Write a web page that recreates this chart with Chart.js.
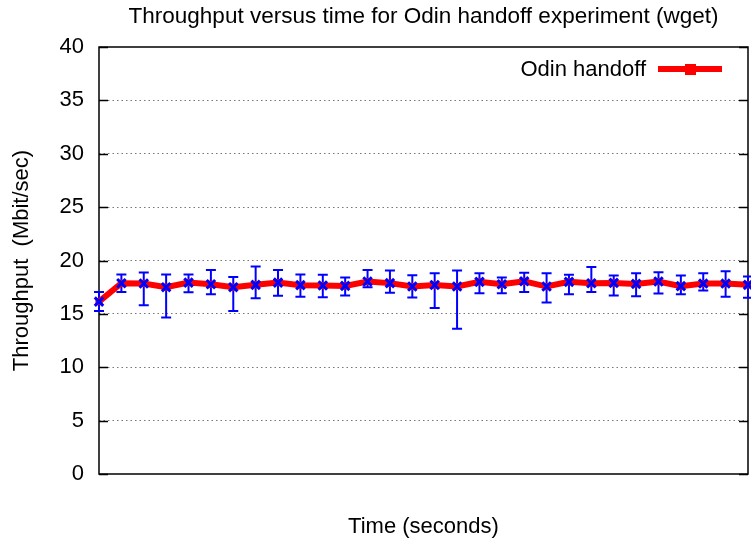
<!DOCTYPE html>
<html>
<head>
<meta charset="utf-8">
<script src="https://cdn.jsdelivr.net/npm/chart.js@4.4.0/dist/chart.umd.js"></script>
<style>
  html, body { margin: 0; padding: 0; background: #fff; }
  #wrap { width: 751px; height: 545px; position: relative; }
</style>
</head>
<body>
<div id="wrap"><canvas id="c" width="751" height="545"></canvas></div>
<script>
// time index of each sample (x axis carries no tick labels)
const times = [0, 1, 2, 3, 4, 5, 6, 7, 8, 9, 10, 11, 12, 13, 14, 15, 16, 17, 18, 19, 20, 21, 22, 23, 24, 25, 26, 27, 28, 29];
// mean throughput, Mbit/sec
const throughput = [16.15, 17.87, 17.85, 17.5, 17.93, 17.78, 17.5, 17.72, 17.93, 17.69,
                    17.66, 17.62, 18.03, 17.88, 17.56, 17.7, 17.56, 18.0, 17.78, 18.05,
                    17.56, 18.0, 17.87, 17.9, 17.81, 18.03, 17.6, 17.84, 17.84, 17.72];
// error bar bounds
const errLow = [15.28, 17.06, 15.8, 14.65, 17.03, 16.84, 15.28, 16.47, 16.7, 16.6,
                16.56, 16.72, 17.5, 16.97, 16.53, 15.56, 13.6, 16.94, 16.94, 17.06,
                16.06, 16.84, 17.06, 16.72, 16.66, 16.9, 16.84, 17.2, 16.6, 16.5];
const errHigh = [17.06, 18.68, 18.87, 18.7, 18.7, 19.1, 18.46, 19.44, 19.1, 18.7,
                 18.66, 18.4, 19.1, 19.06, 18.62, 18.81, 19.06, 18.8, 18.4, 18.86,
                 18.8, 18.66, 19.4, 18.6, 18.8, 18.9, 18.6, 18.8, 19.0, 18.5];
const yTicks = [0, 5, 10, 15, 20, 25, 30, 35, 40];
const seriesName = 'Odin handoff';
const chartTitle = 'Throughput versus time for Odin handoff experiment (wget)';

const FONT = 'Liberation Sans, Arial, Helvetica, sans-serif';
const pts = times.map((t, i) => ({ x: t, y: throughput[i] }));

// box border + inward ticks on left/right (gnuplot look)
const frame = {
    id: 'frame',
    beforeDatasetsDraw(chart) {
        const { ctx, chartArea: a, scales: { y } } = chart;
        ctx.save();
        ctx.strokeStyle = '#000'; ctx.lineWidth = 1.5;
        ctx.beginPath();
        yTicks.forEach((v) => {
            const py = Math.round(y.getPixelForValue(v)) + 0.5;
            ctx.moveTo(a.left, py); ctx.lineTo(a.left + 9, py);
            ctx.moveTo(a.right, py); ctx.lineTo(a.right - 9, py);
        });
        ctx.stroke();
        ctx.strokeRect(a.left, a.top, a.right - a.left, a.bottom - a.top);
        ctx.restore();
    },
};

// blue error bars with caps, under the red line
const errBars = {
    id: 'errBars',
    beforeDatasetsDraw(chart) {
        const { ctx, scales: { x, y } } = chart;
        ctx.save();
        ctx.strokeStyle = '#0000ff'; ctx.lineWidth = 2;
        ctx.beginPath();
        times.forEach((t, i) => {
            const px = x.getPixelForValue(t);
            const lo = y.getPixelForValue(errLow[i]), hi = y.getPixelForValue(errHigh[i]);
            ctx.moveTo(px, lo); ctx.lineTo(px, hi);
            ctx.moveTo(px - 5, lo); ctx.lineTo(px + 5, lo);
            ctx.moveTo(px - 5, hi); ctx.lineTo(px + 5, hi);
        });
        ctx.stroke();
        ctx.restore();
    },
};

// legend in the top-right corner: text, then line sample with square
const keyBox = {
    id: 'keyBox',
    afterDraw(chart) {
        const { ctx } = chart;
        ctx.save();
        ctx.font = '22px ' + FONT;
        ctx.fillStyle = '#000'; ctx.textAlign = 'right'; ctx.textBaseline = 'middle';
        ctx.fillText(seriesName, 646, 70);
        ctx.strokeStyle = '#ff0000'; ctx.lineWidth = 6;
        ctx.beginPath(); ctx.moveTo(658, 69); ctx.lineTo(722, 69); ctx.stroke();
        ctx.fillStyle = '#ff0000'; ctx.fillRect(685, 64, 11, 11);
        ctx.restore();
    },
};

new Chart(document.getElementById('c'), {
    type: 'line',
    data: {
        datasets: [
            { label: seriesName, data: pts, borderColor: '#ff0000', backgroundColor: '#ff0000', borderWidth: 6,
              pointStyle: 'rect', pointRadius: 5, pointBorderWidth: 0, tension: 0, clip: false, order: 2 },
            { label: 'marks', data: pts, showLine: false, borderColor: '#0000ff', pointStyle: 'crossRot',
              pointRadius: 6, pointBorderWidth: 3, clip: false, order: 1 },
        ],
    },
    options: {
        responsive: false, animation: false, devicePixelRatio: 1,
        layout: { autoPadding: false, padding: { left: 0, right: 3, top: 0, bottom: 0 } },
        plugins: { legend: { display: false }, tooltip: { enabled: false } },
        scales: {
            // top axis only carries the title, so it is centred over the plot like gnuplot does
            xTop: {
                type: 'linear', position: 'top', min: 0, max: 29,
                grid: { display: false }, border: { display: false },
                ticks: { display: false },
                title: { display: true, text: chartTitle, color: '#000', font: { family: FONT, size: 22.5 }, padding: { top: 3.5, bottom: 0 } },
                afterFit: (s) => { s.height = 47; },
            },
            x: {
                type: 'linear', min: 0, max: 29,
                grid: { display: false }, border: { display: false },
                ticks: { display: false },
                title: { display: true, text: 'Time (seconds)', color: '#000', font: { family: FONT, size: 22 }, padding: { top: 0, bottom: 4.8 } },
                afterFit: (s) => { s.height = 71; },
            },
            y: {
                min: 0, max: 40,
                afterBuildTicks: (s) => { s.ticks = yTicks.map((v) => ({ value: v })); },
                grid: { color: (c) => (c.tick.value === 0 || c.tick.value === 40 ? 'rgba(0,0,0,0)' : '#777'), lineWidth: 1, drawTicks: false },
                border: { display: false, dash: [1.5, 3] },
                ticks: { color: '#000', font: { family: FONT, size: 22 }, padding: 15 },
                title: { display: true, text: 'Throughput  (Mbit/sec)', color: '#000', font: { family: FONT, size: 22 }, padding: { top: 8.8, bottom: 0 } },
                afterFit: (s) => { s.width = 99; },
            },
        },
    },
    plugins: [frame, errBars, keyBox],
});
</script>
</body>
</html>
